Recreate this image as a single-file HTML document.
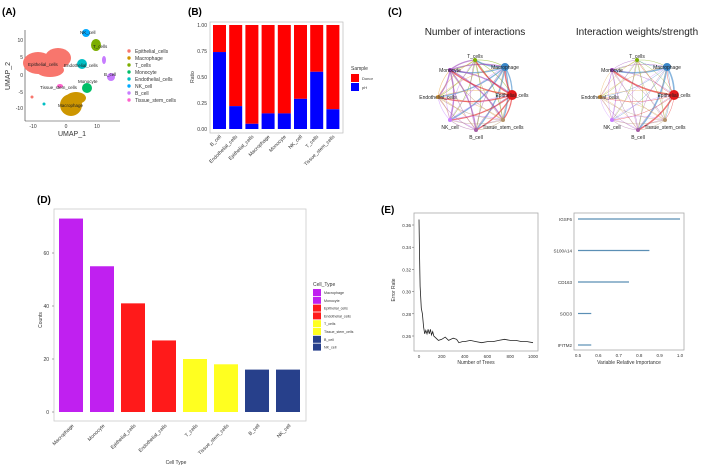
<!DOCTYPE html>
<html><head><meta charset="utf-8"><style>
body{margin:0;background:#fff}
svg{display:block;font-family:"Liberation Sans",sans-serif}
</style></head><body>
<svg id="fig" width="709" height="468" viewBox="0 0 709 468">
<!-- Panel labels -->
<text x="2" y="15" font-size="10" font-weight="bold">(A)</text>
<text x="188" y="15" font-size="10" font-weight="bold">(B)</text>
<text x="388" y="15" font-size="10" font-weight="bold">(C)</text>
<text x="37" y="203" font-size="10" font-weight="bold">(D)</text>
<text x="381" y="213" font-size="10" font-weight="bold">(E)</text>

<!-- Panel A UMAP -->
<g id="umap">
<line x1="25" y1="30" x2="25" y2="121" stroke="#333" stroke-width="0.6"/>
<line x1="25" y1="121" x2="120" y2="121" stroke="#333" stroke-width="0.6"/>
<ellipse cx="38" cy="63" rx="15" ry="11" fill="#F8766D"/>
<ellipse cx="58" cy="58" rx="13" ry="10" fill="#F8766D"/>
<ellipse cx="50" cy="70" rx="14" ry="7" fill="#F8766D"/>
<ellipse cx="71" cy="105" rx="11" ry="11" fill="#CD9600"/>
<ellipse cx="76" cy="98" rx="10" ry="6" fill="#CD9600"/>
<ellipse cx="96" cy="45" rx="5" ry="6" fill="#7CAE00"/>
<ellipse cx="86" cy="33" rx="4" ry="4" fill="#00A9FF"/>
<ellipse cx="82" cy="64" rx="5" ry="5" fill="#00BFC4"/>
<ellipse cx="87" cy="88" rx="5" ry="5" fill="#00BE67"/>
<ellipse cx="111" cy="77" rx="4" ry="4" fill="#C77CFF"/>
<ellipse cx="104" cy="60" rx="2" ry="4" fill="#C77CFF"/>
<ellipse cx="60" cy="86" rx="3" ry="2" fill="#FF61CC"/>
<circle cx="32" cy="97" r="1.5" fill="#F8766D"/><circle cx="44" cy="104" r="1.5" fill="#00BFC4"/>
<g font-size="4.5" fill="#222">
<text x="28" y="66">Epithelial_cells</text><text x="58" y="107">Macrophage</text>
<text x="93" y="48">T_cells</text><text x="80" y="34">NK_cell</text>
<text x="64" y="67">Endothelial_cells</text><text x="78" y="83">Monocyte</text>
<text x="104" y="76">B_cell</text><text x="40" y="89">Tissue_stem_cells</text>
</g>
<g font-size="5" fill="#333" text-anchor="end">
<text x="23" y="42">10</text><text x="23" y="59">5</text><text x="23" y="77">0</text><text x="23" y="94">-5</text><text x="23" y="110">-10</text>
</g>
<g font-size="5" fill="#333" text-anchor="middle">
<text x="33" y="128">-10</text><text x="66" y="128">0</text><text x="97" y="128">10</text>
</g>
<text x="72" y="136" font-size="7" text-anchor="middle" fill="#333">UMAP_1</text>
<text transform="translate(10,76) rotate(-90)" font-size="7" text-anchor="middle" fill="#333">UMAP_2</text>
<g font-size="5" fill="#333">
<circle cx="129" cy="51" r="1.7" fill="#F8766D"/><text x="135" y="53">Epithelial_cells</text>
<circle cx="129" cy="58" r="1.7" fill="#CD9600"/><text x="135" y="60">Macrophage</text>
<circle cx="129" cy="65" r="1.7" fill="#7CAE00"/><text x="135" y="67">T_cells</text>
<circle cx="129" cy="72" r="1.7" fill="#00BE67"/><text x="135" y="74">Monocyte</text>
<circle cx="129" cy="79" r="1.7" fill="#00BFC4"/><text x="135" y="81">Endothelial_cells</text>
<circle cx="129" cy="86" r="1.7" fill="#00A9FF"/><text x="135" y="88">NK_cell</text>
<circle cx="129" cy="93" r="1.7" fill="#C77CFF"/><text x="135" y="95">B_cell</text>
<circle cx="129" cy="100" r="1.7" fill="#FF61CC"/><text x="135" y="102">Tissue_stem_cells</text>
</g>
</g>

<g id="panelB"></g>
<g id="panelC"></g>
<g id="panelD"></g>
<g id="panelE1"></g>
<g id="panelE2"></g>
</svg>
<script>
const NS="http://www.w3.org/2000/svg";
function mk(parent,tag,attrs,txt){const e=document.createElementNS(NS,tag);for(const k in attrs)e.setAttribute(k,attrs[k]);if(txt!==undefined)e.textContent=txt;parent.appendChild(e);return e;}

/* Panel B data */
const bCategories=["B_cell","Endothelial_cells","Epithelial_cells","Macrophage","Monocyte","NK_cell","T_cells","Tissue_stem_cells"];
const bPH=[0.74,0.22,0.05,0.15,0.15,0.29,0.55,0.19];
const bTicks=[0,0.25,0.5,0.75,1.0];
const bTickLabels=["0.00","0.25","0.50","0.75","1.00"];

/* Panel D data */
const dCategories=["Macrophage","Monocyte","Epithelial_cells","Endothelial_cells","T_cells","Tissue_stem_cells","B_cell","NK_cell"];
const dCounts=[73,55,41,27,20,18,16,16];
const dColors=["#C020F0","#C020F0","#FF1A1A","#FF1A1A","#FFFF20","#FFFF20","#27408B","#27408B"];
const dTicks=[0,20,40,60];

/* Panel E data */
const eTrees=[0,5,10,20,30,40,50,60,70,80,90,100,110,120,130,150,170,200,230,260,300,330,350,380,400,450,500,550,600,650,700,750,800,850,900,950,1000];
const eError=[0.365,0.33,0.305,0.285,0.28,0.268,0.262,0.265,0.262,0.266,0.262,0.266,0.261,0.264,0.260,0.258,0.256,0.257,0.259,0.256,0.258,0.257,0.254,0.255,0.255,0.256,0.255,0.254,0.255,0.255,0.256,0.257,0.256,0.256,0.255,0.255,0.254];
const eXTicks=[0,200,400,600,800,1000];
const eYTicks=[0.26,0.28,0.30,0.32,0.34,0.36];
const impGenes=["IGSF6","S100A14","CD163","SOD3","IFITM2"];
const impValues=[1.0,0.85,0.75,0.565,0.565];
const impTicks=[0.5,0.6,0.7,0.8,0.9,1.0];

/* ---- Panel B ---- */
(function(){
const g=document.getElementById('panelB');
const L=210,R=343,T=22,B=133;
const y=v=>129-v*(129-25);
const x0=213,step=16.2,bw=13;
mk(g,'rect',{x:L,y:T,width:R-L,height:B-T,fill:'#fff',stroke:'#bbb','stroke-width':0.7});
bTicks.forEach((t,i)=>{mk(g,'text',{x:L-3,y:y(t)+2,'font-size':5,'text-anchor':'end',fill:'#333'},bTickLabels[i]);});
bCategories.forEach((c,i)=>{
  const x=x0+i*step;
  const r=mk(g,'rect',{x:x,y:y(1),width:bw,height:y(bPH[i])-y(1),fill:'#FF0000'});
  
  
  const b=mk(g,'rect',{x:x,y:y(bPH[i]),width:bw,height:y(0)-y(bPH[i]),fill:'#0000FF'});
  
  
  mk(g,'text',{transform:`translate(${x+bw/2+2},${B+4}) rotate(-45)`,'font-size':5,'text-anchor':'end',fill:'#333'},c);
});
mk(g,'text',{transform:'translate(194,77) rotate(-90)','font-size':5,'text-anchor':'middle',fill:'#333'},'Ratio');
mk(g,'text',{x:351,y:70,'font-size':5,fill:'#333'},'Sample');
mk(g,'rect',{x:351,y:74,width:8,height:8,fill:'#FF0000'});
mk(g,'rect',{x:351,y:83,width:8,height:8,fill:'#0000FF'});
mk(g,'text',{x:362,y:80,'font-size':4,fill:'#333'},'Donor');
mk(g,'text',{x:362,y:89,'font-size':4,fill:'#333'},'pH');
})();

/* ---- Panel C ---- */
(function(){
const g=document.getElementById('panelC');
const names=["T_cells","Macrophage","Monocyte","Endothelial_cells","Epithelial_cells","NK_cell","B_cell","Tissue_stem_cells"];
const cols=["#7CAE00","#3A86C8","#9A3FB5","#E8A33D","#E41A1C","#C77CFF","#A65FA5","#B5936B"];
const pts=[[475,60],[505,67],[450,70],[438,97],[512,95],[450,120],[476,130],[503,120]];
const titles=["Number of interactions","Interaction weights/strength"];
[0,162].forEach((dx,k)=>{
  mk(g,'text',{x:475+dx,y:35,'font-size':10,'text-anchor':'middle',fill:'#222'},titles[k]);
  for(let i=0;i<pts.length;i++)for(let j=0;j<pts.length;j++){ if(i===j)continue;
    const [x1,y1]=pts[i],[x2,y2]=pts[j];
    const mx=(x1+x2)/2+(y2-y1)*0.15,my=(y1+y2)/2-(x2-x1)*0.15;
    const w=(k===0)?((i===1||i===4||i===2)?1.3:0.6):((i===4||i===1)&&(j===4||j===6||j===2)?1.6:0.5);
    mk(g,'path',{d:`M${x1+dx},${y1} Q${mx+dx},${my} ${x2+dx},${y2}`,fill:'none',stroke:cols[i],'stroke-width':w,opacity:0.6});
  }
  pts.forEach((p,i)=>{
    const r=(i===4)?5:(i===1?4:2);
    mk(g,'circle',{cx:p[0]+dx,cy:p[1],r:r,fill:cols[i]});
    mk(g,'text',{x:p[0]+dx,y:p[1]+(i===0?-2:(i>=5?9:2)),'font-size':5,'text-anchor':'middle',fill:'#222'},names[i]);
  });
});
})();

/* ---- Panel D ---- */
(function(){
const g=document.getElementById('panelD');
const L=54,R=306,T=209,B=421;
const y=v=>412-v*2.65;
const x0=59,step=31,bw=24;
mk(g,'rect',{x:L,y:T,width:R-L,height:B-T,fill:'#fff',stroke:'#ccc','stroke-width':0.8});
dTicks.forEach(t=>{mk(g,'text',{x:L-5,y:y(t)+2,'font-size':5,'text-anchor':'end',fill:'#333'},String(t));
  mk(g,'line',{x1:L-2,x2:L,y1:y(t),y2:y(t),stroke:'#555','stroke-width':0.5});});
dCategories.forEach((c,i)=>{
  const x=x0+i*step;
  const r=mk(g,'rect',{x:x,y:y(dCounts[i]),width:bw,height:y(0)-y(dCounts[i]),fill:dColors[i]});
  
  
  mk(g,'text',{transform:`translate(${x+bw/2+3},${B+5}) rotate(-45)`,'font-size':5,'text-anchor':'end',fill:'#333'},c);
});
mk(g,'text',{x:176,y:464,'font-size':5,'text-anchor':'middle',fill:'#333'},'Cell Type');
mk(g,'text',{transform:'translate(42,320) rotate(-90)','font-size':5,'text-anchor':'middle',fill:'#333'},'Counts');
mk(g,'text',{x:313,y:286,'font-size':5,fill:'#333'},'Cell_Type');
const legNames=["Macrophage","Monocyte","Epithelial_cells","Endothelial_cells","T_cells","Tissue_stem_cells","B_cell","NK_cell"];
legNames.forEach((n,i)=>{
  mk(g,'rect',{x:313,y:289+i*7.8,width:8,height:7,fill:dColors[i]});
  mk(g,'text',{x:324,y:294+i*7.8,'font-size':3.6,fill:'#333'},n);
});
})();

/* ---- Panel E left ---- */
(function(){
const g=document.getElementById('panelE1');
const L=414,R=538,T=213,B=351;
const x=v=>419+v*0.114;
const y=v=>336-(v-0.26)*1110;
mk(g,'rect',{x:L,y:T,width:R-L,height:B-T,fill:'#fff',stroke:'#aaa','stroke-width':0.8});
eYTicks.forEach(t=>{mk(g,'text',{x:L-3,y:y(t)+2,'font-size':4.5,'text-anchor':'end',fill:'#333'},t.toFixed(2));
  mk(g,'line',{x1:L-2,x2:L,y1:y(t),y2:y(t),stroke:'#555','stroke-width':0.5});});
eXTicks.forEach(t=>{mk(g,'text',{x:x(t),y:B+7,'font-size':4.5,'text-anchor':'middle',fill:'#333'},String(t));});
let d='';eTrees.forEach((t,i)=>{d+=(i?'L':'M')+x(t).toFixed(1)+','+y(eError[i]).toFixed(1);});
const p=mk(g,'path',{d:d,fill:'none',stroke:'#222','stroke-width':0.8});


mk(g,'text',{x:476,y:364,'font-size':5,'text-anchor':'middle',fill:'#333'},'Number of Trees');
mk(g,'text',{transform:'translate(395,290) rotate(-90)','font-size':5,'text-anchor':'middle',fill:'#333'},'Error Rate');
})();

/* ---- Panel E right ---- */
(function(){
const g=document.getElementById('panelE2');
const L=574,R=684,T=213,B=350;
const x=v=>578+(v-0.5)*204;
const rowY=i=>219+i*31.5;
mk(g,'rect',{x:L,y:T,width:R-L,height:B-T,fill:'#fff',stroke:'#aaa','stroke-width':0.8});
impGenes.forEach((gn,i)=>{
  const l=mk(g,'line',{x1:x(0.5),x2:x(impValues[i]),y1:rowY(i),y2:rowY(i),stroke:'#5b8fb5','stroke-width':1.2});
  
  
  mk(g,'text',{x:L-2,y:rowY(i)+2,'font-size':4.5,'text-anchor':'end',fill:'#333'},gn);
});
impTicks.forEach(t=>{mk(g,'text',{x:x(t),y:B+7,'font-size':4.5,'text-anchor':'middle',fill:'#333'},t.toFixed(1));});
mk(g,'text',{x:629,y:364,'font-size':5,'text-anchor':'middle',fill:'#333'},'Variable Relative Importance');
})();
</script>
</body></html>
